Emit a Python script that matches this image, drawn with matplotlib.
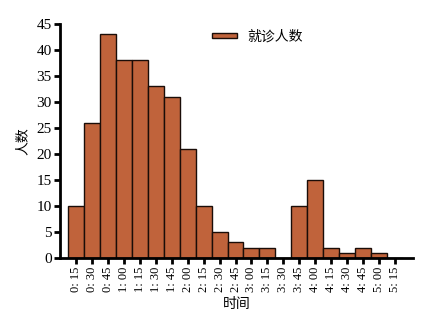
import matplotlib
matplotlib.use("Agg")
import matplotlib.pyplot as plt
import numpy as np

plt.rcParams['font.family'] = ['Liberation Serif', 'Noto Sans CJK SC', 'DejaVu Sans']

# --- data ---
time_labels = ['0:15', '0:30', '0:45', '1:00', '1:15', '1:30', '1:45', '2:00',
               '2:15', '2:30', '2:45', '3:00', '3:15', '3:30', '3:45', '4:00',
               '4:15', '4:30', '4:45', '5:00', '5:15']
patients = [10, 26, 43, 38, 38, 33, 31, 21, 10, 5, 3, 2, 2, 0, 10, 15, 2, 1, 2, 1, 0]

bar_color = '#C0633B'
cjk = ['Noto Sans CJK SC', 'DejaVu Sans']

fig = plt.figure(figsize=(4.38, 3.17), dpi=100)
ax = fig.add_axes([0.137, 0.186, 0.805, 0.738])

x = np.arange(len(time_labels))
ax.bar(x, patients, width=1.0, color=bar_color, edgecolor='#1a0d08',
       linewidth=1.0, label='就诊人数')

ax.set_xlim(-1, 21.1)
ax.set_ylim(0, 45)
ax.set_yticks(range(0, 46, 5))
ax.set_xticks(x)
ax.set_xticklabels([t.replace(':', ': ') for t in time_labels], rotation=90,
                   fontsize=9)
ax.tick_params(axis='y', labelsize=11, length=4, width=2, pad=2)
ax.tick_params(axis='x', length=4, width=2, pad=2)

for s in ['top', 'right']:
    ax.spines[s].set_visible(False)
for s in ['left', 'bottom']:
    ax.spines[s].set_linewidth(2)

ax.set_ylabel('人数', family=cjk, fontsize=10, labelpad=5)
ax.set_xlabel('时间', family=cjk, fontsize=10, labelpad=4)

leg = ax.legend(loc='upper center', bbox_to_anchor=(0.56, 1.03), frameon=False,
                prop={'family': cjk, 'size': 10}, handlelength=1.8,
                handleheight=0.25)

fig.savefig('out.png', dpi=100)
